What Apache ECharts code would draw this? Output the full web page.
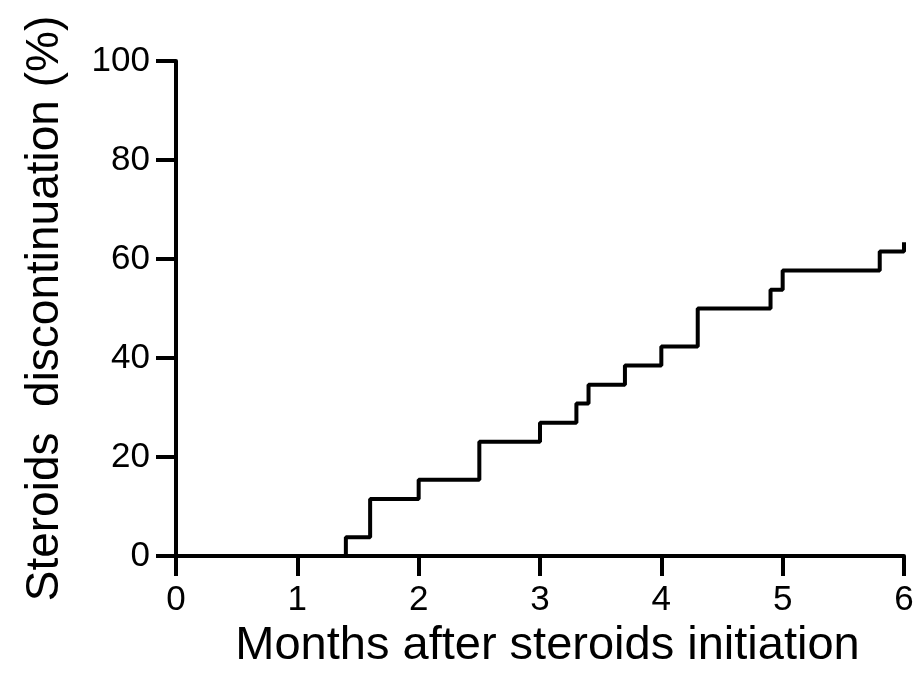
<!DOCTYPE html>
<html>
<head>
<meta charset="utf-8">
<script src="https://cdn.jsdelivr.net/npm/echarts@6/dist/echarts.min.js"></script>
<style>
  html, body { margin: 0; padding: 0; background: #fff; }
  #chart { width: 918px; height: 686px; }
</style>
</head>
<body>
<div id="chart"></div>
<script>
// step points (month, % discontinued)
var months  = [0, 1.4, 1.6, 2.0, 2.5, 3.0, 3.3, 3.4, 3.7, 4.0, 4.3, 4.9, 5.0, 5.8, 6.0];
var percent = [0, 3.8, 11.5, 15.4, 23.1, 26.9, 30.8, 34.6, 38.5, 42.3, 50.0, 53.8, 57.7, 61.5, 63.4];

var xTicks = [0, 1, 2, 3, 4, 5, 6];
var yTicks = [0, 20, 40, 60, 80, 100];

var pts = [];
for (var i = 0; i < months.length; i++) {
  pts.push([months[i], percent[i]]);
}

var font = '"Liberation Sans", Arial, Helvetica, sans-serif';
var myChart = echarts.init(document.getElementById('chart'));

var option = {
  backgroundColor: '#fff',
  animation: false,
  grid: { left: 176, right: 14, top: 61, bottom: 130 },
  xAxis: {
    type: 'value',
    min: xTicks[0],
    max: xTicks[xTicks.length - 1],
    interval: 1,
    name: 'Months after steroids initiation',
    nameLocation: 'middle',
    nameGap: 67,
    nameTextStyle: { color: '#000', fontSize: 47, fontFamily: font, padding: [0, 0, 0, 15] },
    axisLine: { show: true, lineStyle: { color: '#000', width: 4 } },
    axisTick: { show: true, length: 20, lineStyle: { color: '#000', width: 4 } },
    axisLabel: { color: '#000', fontSize: 35, fontFamily: font, margin: 27 },
    splitLine: { show: false }
  },
  yAxis: {
    type: 'value',
    min: yTicks[0],
    max: yTicks[yTicks.length - 1],
    interval: 20,
    name: 'Steroids  discontinuation (%)',
    nameLocation: 'middle',
    nameGap: 108,
    nameTextStyle: { color: '#000', fontSize: 46, fontFamily: font },
    axisLine: { show: true, lineStyle: { color: '#000', width: 4 } },
    axisTick: { show: true, length: 20, lineStyle: { color: '#000', width: 4 } },
    axisLabel: { color: '#000', fontSize: 35, fontFamily: font, margin: 26 },
    splitLine: { show: false }
  },
  series: [
    {
      type: 'line',
      step: 'end',
      symbol: 'none',
      clip: false,
      lineStyle: { color: '#000', width: 4 },
      data: pts
    }
  ]
};

myChart.setOption(option);
</script>
</body>
</html>
